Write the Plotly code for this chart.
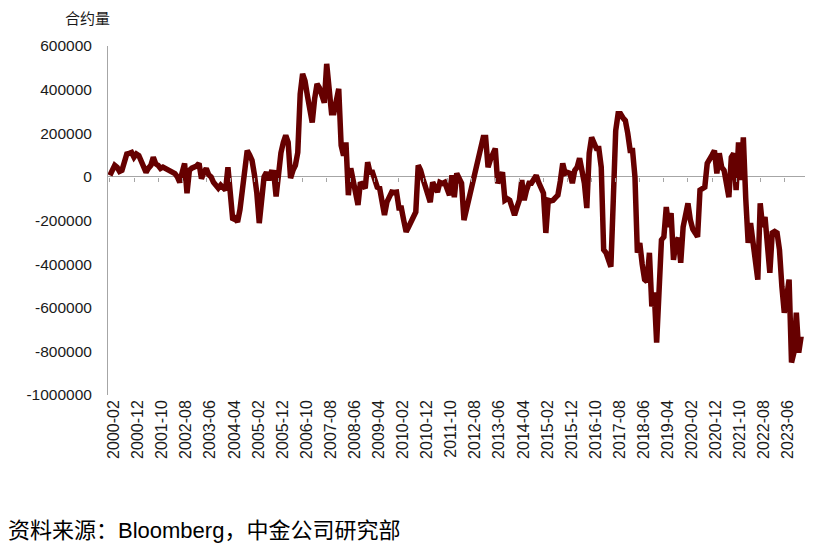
import plotly.graph_objects as go
import pandas as pd

# ── Theme ───────────────────────────────────────────────────────────────────
LINE_COLOR = "#660000"
AXIS_GRAY = "#A6A6A6"
TEXT_COLOR = "#1a1a1a"
FONT = "Arial"
CJK_FONT = "Arial, Noto Sans CJK SC"

# ── Data: monthly net contracts, 2000-02 .. 2024-01 ─────────────────────────
START_MONTH = "2000-02"
N_MONTHS = 288

net_contracts = [
    7000, 40000, 53000, 44000, 25000, 30000, 76000, 105000, 108000, 112000,
    90000, 105000, 98000, 76000, 55000, 21000, 40000, 53000, 90000, 60000,
    53000, 39000, 45000, 39000, 35000, 30000, 21000, 15000, 0, -25000,
    20000, 62000, -75000, 30000, 40000, 44000, 50000, 62000, -8000, 20000,
    39000, 10000, 0, -25000, -40000, -52000, -38000, -50000, -61000, 44000,
    -120000, -198000, -190000, -207000, -150000, -47000, 50000, 121000, 100000, 76000,
    10000, -75000, -212000, -75000, 0, 21000, -15000, 21000, 20000, -90000,
    30000, 110000, 158000, 190000, 158000, -6000, 30000, 53000, 112000, 380000,
    472000, 440000, 372000, 320000, 249000, 358000, 426000, 408000, 380000, 340000,
    518000, 400000, 294000, 294000, 360000, 404000, 144000, 98000, 158000, -84000,
    39000, -10000, -52000, -129000, -25000, -40000, -52000, 67000, 21000, 21000,
    -10000, -47000, -52000, -120000, -175000, -116000, -90000, -70000, -72000, -70000,
    -143000, -143000, -200000, -252000, -230000, -207000, -185000, -161000, 53000, 30000,
    -10000, -52000, -90000, -116000, -25000, -50000, -70000, -25000, -30000, -25000,
    -50000, -84000, 7000, -93000, 16000, -15000, -29000, -198000, -152000, -110000,
    -75000, -20000, 44000, 76000, 130000, 181000, 181000, 44000, 80000, 108000,
    130000, -29000, 0, 21000, -107000, -100000, -107000, -138000, -175000, -140000,
    -107000, -15000, -107000, -60000, -29000, -29000, -10000, 7000, -25000, -50000,
    -75000, -257000, -107000, -110000, -107000, -95000, -84000, -20000, 62000, 16000,
    20000, 16000, -29000, 30000, 44000, 85000, 20000, -29000, -143000, 108000,
    181000, 160000, 130000, 130000, 44000, -334000, -348000, -380000, -412000, -107000,
    212000, 289000, 289000, 271000, 258000, 200000, 121000, 121000, 0, -348000,
    -303000, -400000, -471000, -480000, -348000, -594000, -530000, -760000, -530000, -289000,
    -275000, -138000, -230000, -166000, -380000, -300000, -280000, -394000, -230000, -170000,
    -121000, -198000, -240000, -257000, -275000, -61000, -55000, -47000, 62000, 76000,
    100000, 121000, 16000, 108000, 44000, 30000, -20000, -93000, 90000, 108000,
    -61000, 158000, -15000, 181000, -100000, -303000, -212000, -289000, -380000, -471000,
    -121000, -230000, -184000, -300000, -440000, -257000, -250000, -257000, -334000, -503000,
    -623000, -550000, -471000, -851000, -805000, -623000, -805000, -731000,
]

months = pd.period_range(START_MONTH, periods=N_MONTHS, freq="M").strftime("%Y-%m").tolist()
tick_labels = months[::10][:29]   # 2000-02, 2000-12, ... 2023-06

y_ticks = [600000, 400000, 200000, 0, -200000, -400000, -600000, -800000, -1000000]
y_tick_text = [str(v) for v in y_ticks]

# ── Figure ──────────────────────────────────────────────────────────────────
fig = go.Figure()
fig.add_trace(go.Scatter(
    x=months, y=net_contracts, mode="lines",
    line=dict(color=LINE_COLOR, width=5.5),
    showlegend=False,
))
# invisible copy so the zero-line tick axis is drawn
fig.add_trace(go.Scatter(
    x=months, y=net_contracts, mode="lines", xaxis="x2",
    line=dict(width=0), opacity=0, hoverinfo="skip", showlegend=False,
))

# the page body adds an 8px offset, so the figure is 8px smaller than the window
fig.update_layout(
    width=831, height=545,
    paper_bgcolor="white", plot_bgcolor="white",
    margin=dict(l=100, r=34, t=38, b=158),
    font=dict(family=FONT, color=TEXT_COLOR),
    xaxis=dict(
        type="category", range=[-0.8, 288.6],
        tickvals=tick_labels, ticktext=tick_labels,
        tickangle=-90, tickfont=dict(size=16, family=FONT, color=TEXT_COLOR),
        ticks="", showline=False, showgrid=False, zeroline=False,
        ticklabelshift=4, ticklabelstandoff=1,
    ),
    xaxis2=dict(
        type="category", matches="x", overlaying="x",
        anchor="free", position=0.625,
        tickvals=tick_labels, showticklabels=False,
        ticks="outside", ticklen=4, tickcolor=AXIS_GRAY, tickwidth=1,
        showline=False, showgrid=False, zeroline=False,
    ),
    yaxis=dict(
        range=[-1000000, 600000], tickvals=y_ticks, ticktext=y_tick_text,
        tickfont=dict(size=15.5, family=FONT, color=TEXT_COLOR),
        showgrid=False, ticks="",
        showline=True, linecolor=AXIS_GRAY, linewidth=1,
        zeroline=True, zerolinecolor=AXIS_GRAY, zerolinewidth=1,
        ticklabelstandoff=12,
    ),
    annotations=[
        dict(text="合约量", xref="paper", yref="paper", x=-0.03, y=1.0,
             xanchor="center", yanchor="bottom", yshift=17, showarrow=False,
             font=dict(size=15, family=CJK_FONT, color=TEXT_COLOR)),
        dict(text="资料来源：Bloomberg，中金公司研究部", xref="paper", yref="paper",
             x=-102 / 697, y=0, xanchor="left", yanchor="middle", yshift=-135,
             showarrow=False, font=dict(size=22, family=CJK_FONT, color="#000000")),
    ],
)

fig.write_html("out.html")
